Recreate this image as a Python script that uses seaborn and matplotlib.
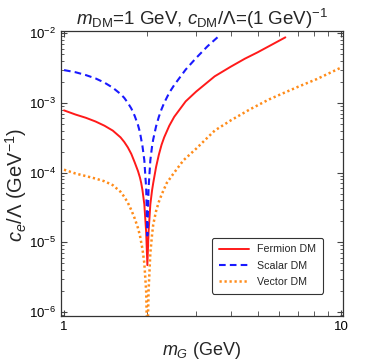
import numpy as np
import pandas as pd
import matplotlib
matplotlib.use("Agg")
import matplotlib.pyplot as plt
import seaborn as sns
from matplotlib.ticker import LogLocator, LogFormatterSciNotation, NullFormatter, FixedLocator, FixedFormatter

# values (mG in GeV, c_e/Lambda in GeV^-1)
fermion_x = [1.0, 1.1, 1.2, 1.3, 1.4, 1.5, 1.6, 1.65, 1.7, 1.75, 1.8, 1.85, 1.88, 1.9, 1.92,
             1.95, 1.98, 2.0,
             2.02, 2.05, 2.08, 2.1, 2.15, 2.2, 2.25, 2.3, 2.4, 2.5, 2.75, 3.0, 3.5, 4.0, 4.5,
             5.0, 5.5, 6.3]
fermion_y = [7.8e-4, 6.8e-4, 6.1e-4, 5.4e-4, 4.7e-4, 4.0e-4, 3.2e-4, 2.75e-4, 2.3e-4, 1.85e-4,
             1.4e-4, 1.05e-4, 8.5e-5, 7.1e-5, 5.6e-5,
             3.5e-5, 1.4e-5, 4.7e-6,
             1.4e-5, 3.5e-5, 5.6e-5, 7.1e-5, 1.2e-4, 1.8e-4, 2.5e-4, 3.2e-4, 4.7e-4, 6.3e-4,
             1.05e-3, 1.45e-3, 2.4e-3, 3.3e-3, 4.3e-3, 5.3e-3, 6.5e-3, 8.7e-3]

scalar_x = [1.0, 1.1, 1.2, 1.3, 1.4, 1.5, 1.6, 1.65, 1.7, 1.75, 1.8, 1.85, 1.88, 1.9, 1.92,
            1.95, 1.98, 2.0,
            2.02, 2.05, 2.08, 2.1, 2.15, 2.2, 2.25, 2.3, 2.4, 2.5, 2.75, 3.0, 3.3, 3.65]
scalar_y = [2.95e-3, 2.75e-3, 2.5e-3, 2.24e-3, 1.95e-3, 1.65e-3, 1.34e-3, 1.18e-3, 1.0e-3, 8.3e-4,
            6.5e-4, 4.8e-4, 3.8e-4, 3.0e-4, 2.4e-4,
            1.5e-4, 6.0e-5, 1.25e-5,
            6.0e-5, 1.5e-4, 2.4e-4, 3.0e-4, 4.6e-4, 6.3e-4, 8.1e-4, 1.0e-3, 1.4e-3, 1.8e-3,
            3.0e-3, 4.4e-3, 6.5e-3, 9.3e-3]

vector_x = [1.0, 1.1, 1.2, 1.3, 1.4, 1.5, 1.6, 1.65, 1.7, 1.75, 1.8, 1.85, 1.88, 1.9, 1.92,
            1.95, 1.98, 2.0,
            2.02, 2.05, 2.08, 2.1, 2.15, 2.2, 2.25, 2.35, 2.5, 2.7, 3.0, 3.5, 4.0, 4.7, 5.5,
            6.2, 7.0, 8.2, 10.0]
vector_y = [1.1e-4, 9.7e-5, 8.9e-5, 8.2e-5, 7.5e-5, 6.6e-5, 5.3e-5, 4.5e-5, 3.7e-5, 2.9e-5,
            2.2e-5, 1.6e-5, 1.25e-5, 1.0e-5, 8.0e-6,
            5.0e-6, 2.0e-6, 3.0e-7,
            2.0e-6, 7.0e-6, 1.3e-5, 1.8e-5, 2.8e-5, 3.8e-5, 4.8e-5, 7.1e-5, 1.0e-4, 1.5e-4,
            2.2e-4, 4.0e-4, 5.6e-4, 8.1e-4, 1.12e-3, 1.38e-3, 1.7e-3, 2.2e-3, 3.2e-3]

sns.set_theme(style="ticks")
plt.rcParams['font.family'] = ['Liberation Sans', 'DejaVu Sans']
plt.rcParams['mathtext.fontset'] = 'custom'
plt.rcParams['mathtext.rm'] = 'Liberation Sans'
plt.rcParams['mathtext.it'] = 'Liberation Sans:italic'
plt.rcParams['mathtext.bf'] = 'Liberation Sans:bold'

fig = plt.figure(figsize=(3.74, 3.63), dpi=100)
ax = fig.add_axes([0.163, 0.1295, 0.754, 0.785])

sns.lineplot(x=fermion_x, y=fermion_y, ax=ax, color="#ff1a1a", lw=1.4, label="Fermion DM", sort=False)
sns.lineplot(x=scalar_x, y=scalar_y, ax=ax, color="#1a1aff", lw=1.5, label="Scalar DM",
             linestyle=(0, (3.2, 2.0)), sort=False)
sns.lineplot(x=vector_x, y=vector_y, ax=ax, color="#ff8c1a", lw=1.8, label="Vector DM",
             linestyle=(0, (0.9, 1.1)), sort=False)

ax.set_xscale("log")
ax.set_yscale("log")
ax.set_xlim(0.975, 10.17)
ax.set_ylim(10**-6.057, 10**-1.97)

ax.xaxis.set_major_locator(FixedLocator([1, 10]))
ax.xaxis.set_major_formatter(FixedFormatter(["1", "10"]))
ax.xaxis.set_minor_locator(LogLocator(base=10, subs=np.arange(2, 10)))
ax.xaxis.set_minor_formatter(NullFormatter())
ax.yaxis.set_major_locator(LogLocator(base=10, numticks=10))
ax.yaxis.set_major_formatter(LogFormatterSciNotation())
ax.yaxis.set_minor_locator(LogLocator(base=10, subs=np.arange(2, 10), numticks=10))
ax.yaxis.set_minor_formatter(NullFormatter())

ax.tick_params(which="both", direction="in", top=True, right=True, colors="#444444",
               labelcolor="black", labelsize=9.5)
ax.tick_params(which="major", length=4.5, width=0.8)
ax.tick_params(which="minor", length=2.5, width=0.6)
ax.tick_params(axis="x", which="minor", length=3.5)
for s in ax.spines.values():
    s.set_color("#333333")
    s.set_linewidth(0.9)

ax.set_xlabel(r"$m_G$ (GeV)", fontsize=13, labelpad=5)
ax.set_ylabel(r"$c_e/\Lambda$ (GeV$^{-1}$)", fontsize=14.5)
ax.yaxis.set_label_coords(-0.112, 0.46)
ax.set_title(r"$m_{\rm DM}$=1 GeV, $c_{\rm DM}/\Lambda$=(1 GeV)$^{-1}$", fontsize=13.5, pad=4)

leg = ax.legend(loc="lower right", bbox_to_anchor=(0.947, 0.06), fontsize=7.7, frameon=True,
                fancybox=True, edgecolor="#333333", framealpha=1, handlelength=2.8,
                borderpad=0.6, labelspacing=0.6)
leg.get_frame().set_linewidth(0.8)

fig.savefig("out.png", dpi=100)
